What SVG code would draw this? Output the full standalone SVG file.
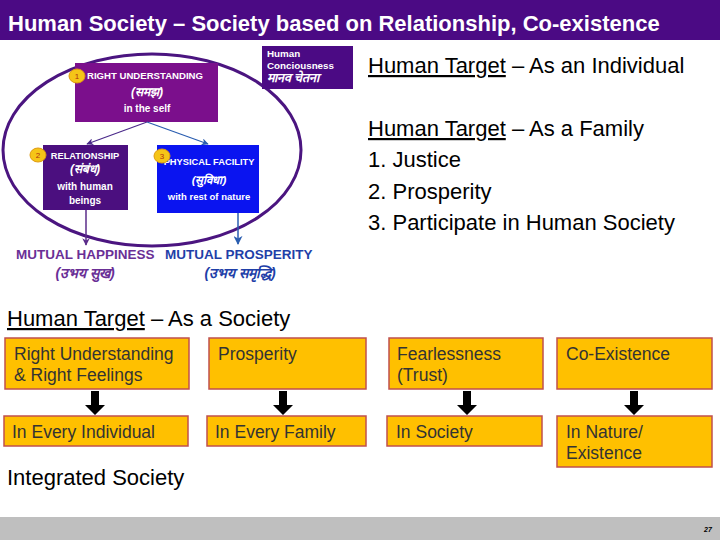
<svg xmlns="http://www.w3.org/2000/svg" width="720" height="540" viewBox="0 0 720 540">
<defs>
<style>
.t{font-family:"Liberation Sans",Arial,sans-serif}
.b{font-weight:bold}
.w{fill:#fff}
.big{font-size:22px;fill:#000}
.ob{fill:#FFC000;stroke:#C0504D;stroke-width:1.5}
.ot{font-family:"Liberation Sans",Arial,sans-serif;font-size:17.5px;fill:#333}
.badge{fill:#F5C518;stroke:#E09A10;stroke-width:1}
.bn{font-family:"Liberation Sans",Arial,sans-serif;font-size:8px;fill:#B03010;text-anchor:middle}
.hi{font-style:italic}
.c{text-anchor:middle}
</style>
<marker id="ap" viewBox="0 0 10 10" refX="9" refY="5" markerWidth="6" markerHeight="6" orient="auto"><path d="M0,0 L10,5 L0,10 L3,5 z" fill="#4B2A8A"/></marker>
<marker id="ab" viewBox="0 0 10 10" refX="9" refY="5" markerWidth="6" markerHeight="6" orient="auto"><path d="M0,0 L10,5 L0,10 L3,5 z" fill="#2A5DB0"/></marker>
<marker id="ap2" viewBox="0 0 10 10" refX="9" refY="5" markerWidth="5" markerHeight="5" orient="auto"><path d="M0,0 L10,5 L0,10 L3,5 z" fill="#5B2C8A"/></marker>
<path id="bigArrow" d="M-4,0 H4 V14 H10 L0,24 L-10,14 H-4 Z" fill="#000"/>
</defs>

<rect width="720" height="540" fill="#fff"/>

<g id="title">
<rect x="0" y="0" width="720" height="40" fill="#4B0A84"/>
<text class="t b w" x="8" y="31" font-size="22">Human Society – Society based on Relationship, Co-existence</text>
</g>

<g id="ellipse">
<ellipse cx="152" cy="150" rx="149" ry="96" fill="none" stroke="#4B1580" stroke-width="3"/>
</g>

<g id="right-understanding">
<rect x="75" y="63" width="143" height="59" fill="#7B0F8C"/>
<text class="t b w" x="87" y="79" font-size="9.6">RIGHT UNDERSTANDING</text>
<text class="t b w hi c" x="147" y="96" font-size="12">(समझ)</text>
<text class="t b w c" x="147" y="112" font-size="10">in the self</text>
<ellipse class="badge" cx="77" cy="76" rx="8" ry="7"/>
<text class="bn" x="77" y="79">1</text>
</g>

<g id="human-consciousness">
<rect x="262" y="46" width="91" height="43" fill="#4B0A84"/>
<text class="t b w" x="267" y="57" font-size="9.8">Human</text>
<text class="t b w" x="267" y="69" font-size="9.8">Conciousness</text>
<text class="t b w hi" x="267" y="82" font-size="12.5">मानव चेतना</text>
</g>

<g id="relationship">
<rect x="43" y="145" width="85" height="65" fill="#4B0F7F"/>
<text class="t b w c" x="85" y="159" font-size="9.3">RELATIONSHIP</text>
<text class="t b w hi c" x="85" y="173" font-size="12">(संबंध)</text>
<text class="t b w c" x="85" y="190" font-size="10">with human</text>
<text class="t b w c" x="85" y="204" font-size="10">beings</text>
<ellipse class="badge" cx="38" cy="155" rx="8" ry="7"/>
<text class="bn" x="38" y="158">2</text>
</g>

<g id="physical-facility">
<rect x="157" y="145" width="102" height="68" fill="#0A14F0"/>
<text class="t b w c" x="209" y="165" font-size="9.3">PHYSICAL FACILITY</text>
<text class="t b w hi c" x="209" y="184" font-size="11.5">(सुविधा)</text>
<text class="t b w c" x="209" y="200" font-size="9.5">with rest of nature</text>
<ellipse class="badge" cx="162" cy="156" rx="8" ry="7"/>
<text class="bn" x="162" y="159">3</text>
</g>

<g id="mutual-happiness">
<text class="t b" x="16" y="259" font-size="13.5" fill="#6A2F96">MUTUAL HAPPINESS</text>
<text class="t b hi c" x="85" y="278" font-size="14" fill="#6A2F96">(उभय सुख)</text>
</g>

<g id="mutual-prosperity">
<text class="t b" x="165" y="259" font-size="13.5" fill="#1F3FA8">MUTUAL PROSPERITY</text>
<text class="t b hi c" x="240" y="278" font-size="14" fill="#1F3FA8">(उभय समृद्धि)</text>
</g>

<g id="right-text" class="t big">
<text x="368" y="73"><tspan text-decoration="underline">Human Target</tspan> – As an Individual</text>
<text x="368" y="136"><tspan text-decoration="underline">Human Target</tspan> – As a Family</text>
<text x="368" y="167">1. Justice</text>
<text x="368" y="199">2. Prosperity</text>
<text x="368" y="230">3. Participate in Human Society</text>
</g>

<g id="society-heading" class="t big">
<text x="7" y="326"><tspan text-decoration="underline">Human Target</tspan> – As a Society</text>
</g>

<g id="box-a1"><rect class="ob" x="5" y="338" width="184" height="51"/>
<text class="ot" x="14" y="360">Right Understanding</text><text class="ot" x="14" y="381">&amp; Right Feelings</text></g>
<g id="box-b1"><rect class="ob" x="209" y="338" width="157" height="51"/>
<text class="ot" x="218" y="360">Prosperity</text></g>
<g id="box-c1"><rect class="ob" x="389" y="338" width="154" height="51"/>
<text class="ot" x="397" y="360">Fearlessness</text><text class="ot" x="397" y="381">(Trust)</text></g>
<g id="box-d1"><rect class="ob" x="557" y="338" width="155" height="51"/>
<text class="ot" x="566" y="360">Co-Existence</text></g>

<g id="box-a2"><rect class="ob" x="4" y="416" width="184" height="30"/>
<text class="ot" x="12" y="438">In Every Individual</text></g>
<g id="box-b2"><rect class="ob" x="207" y="416" width="159" height="30"/>
<text class="ot" x="215" y="438">In Every Family</text></g>
<g id="box-c2"><rect class="ob" x="387" y="416" width="155" height="30"/>
<text class="ot" x="396" y="438">In Society</text></g>
<g id="box-d2"><rect class="ob" x="557" y="416" width="155" height="51"/>
<text class="ot" x="566" y="438">In Nature/</text><text class="ot" x="566" y="459">Existence</text></g>

<g id="integrated"><text class="t big" x="7" y="485">Integrated Society</text></g>

<g id="connectors">
<line x1="147" y1="122" x2="87" y2="144" stroke="#4B2A8A" stroke-width="1.2" marker-end="url(#ap)"/>
<line x1="147" y1="122" x2="208" y2="144" stroke="#2A5DB0" stroke-width="1.2" marker-end="url(#ab)"/>
<line x1="86" y1="210" x2="86" y2="245" stroke="#5B2C8A" stroke-width="1.5" marker-end="url(#ap2)"/>
<line x1="238" y1="213" x2="238" y2="244" stroke="#2A5DB0" stroke-width="1.5" marker-end="url(#ab)"/>
<use href="#bigArrow" x="95" y="391"/>
<use href="#bigArrow" x="283" y="391"/>
<use href="#bigArrow" x="467" y="391"/>
<use href="#bigArrow" x="634" y="391"/>
</g>

<g id="footer">
<rect x="0" y="517" width="720" height="23" fill="#BFBFBF"/>
<text class="t b hi" x="704" y="532" font-size="7" fill="#000">27</text>
</g>
</svg>
